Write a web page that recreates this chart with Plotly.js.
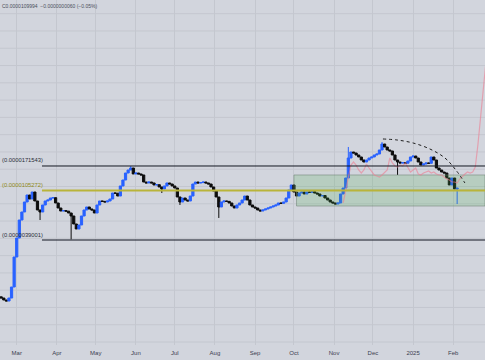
<!DOCTYPE html>
<html><head><meta charset="utf-8">
<script src="https://cdn.plot.ly/plotly-3.0.1.min.js"></script>
<style>html,body{margin:0;padding:0;background:#d2d5dd;}#chart{width:485px;height:360px;}</style>
</head><body><div id="chart"></div>
<script>
// ---- data (prices in units of 1e-6) ----
const candleStartDate = '2024-02-18';   // one candle every 2 days
const candleStepDays = 2;
const closes = [
1.221,1.174,1.150,1.221,1.522,2.775,4.059,5.820,6.831,8.345,
9.600,8.861,10.19,8.514,7.110,6.831,7.859,8.514,8.685,9.040,
9.10,8.180,7.400,6.969,7.02,6.95,6.696,6.306,5.373,4.861,
5.266,6.306,7.110,7.550,7.254,7.110,6.696,7.859,8.514,8.45,
8.345,8.514,8.861,9.992,9.95,9.409,11.50,12.96,14.91,15.83,
16.48,14.62,14.91,14.62,14.33,12.45,12.21,12.45,12.21,11.73,
11.80,11.27,10.83,11.50,12.21,11.96,11.50,11.04,9.223,8.345,
9.040,8.685,8.514,9.409,11.96,12.45,12.21,12.30,12.45,12.21,
11.96,11.27,10.40,9.223,7.550,8.345,8.514,8.45,8.180,7.703,
7.400,7.859,8.180,8.685,9.409,8.685,7.859,7.550,7.400,7.110,
6.969,7.110,7.254,7.400,7.550,7.703,7.859,8.180,8.12,8.345,
9.040,10.61,11.73,10.19,9.409,9.992,10.19,9.794,10.19,10.12,
10.25,9.992,9.794,9.409,9.50,9.040,8.685,8.345,8.180,8.017,
8.180,9.794,11.04,13.49,20.13,22.70,22.25,21.38,20.54,19.34,
18.58,19.34,20.13,20.54,21.38,21.81,23.63,26.64,25.09,23.63,
23.16,21.38,19.34,18.58,18.22,18.30,18.15,18.96,20.54,20.95,
20.13,18.58,17.50,17.85,18.22,18.10,20.54,19.34,16.48,15.83,
15.21,14.91,13.49,11.73,13.49,10.83,10.9994
];
const firstOpen = 1.25;
// long wicks: candle index -> low / high
const wickLowIdx  = [15, 27, 62, 69, 84, 153, 176];
const wickLowVal  = [5.82, 3.95, 9.99, 7.86, 6.06, 14.33, 8.017];
const wickHighIdx = [50, 134, 147];
const wickHighVal = [17.10, 25.10, 27.70];

// faint pink compare series
const pinkStartDate = '2024-11-08';
const pinkValues = [
8.180,10.61,14.33,17.50,18.58,17.50,15.83,14.91,15.83,17.85,
16.48,15.21,14.33,14.04,13.76,14.33,15.21,15.83,20.13,18.22,
17.15,16.81,17.50,17.15,18.22,16.48,15.21,15.83,16.48,14.62,
14.33,14.91,15.21,15.52,14.91,15.21,14.62,14.33,14.33,13.76,
13.22,12.96,12.45,12.45,12.21,13.22,14.04,14.62,15.21,14.91,
15.21,16.81,26.11,44.83,86.79,129.6
];

// horizontal drawings (price levels) and their labels
const levelValues = [17.1543, 10.5272, 3.9001];
const levelLabels = ['(0.0000171543)', '(0.0000105272)', '(0.0000039001)'];
const levelStart = '2024-03-20 12:00';

// zone rectangles [start date, top, bottom]
const zoneStarts = ['2024-10-01', '2024-10-03'];
const zoneTops = [14.33, 10.5272];
const zoneBottoms = [10.5272, 7.70];

// dotted arc drawing
const arcDates = ['2024-12-08 17:00','2024-12-19 12:00','2025-01-01','2025-01-14','2025-01-25 14:00','2025-02-03','2025-02-10'];
const arcValues = [29.45, 28.87, 27.18, 24.10, 20.13, 15.83, 12.21];

// x-axis ticks
const tickDates = ['2024-03-01','2024-04-01','2024-05-01','2024-06-01','2024-07-01','2024-08-01','2024-09-01','2024-10-01','2024-11-01','2024-12-01','2025-01-01','2025-02-01'];
const tickLabels = ['Mar','Apr','May','Jun','Jul','Aug','Sep','Oct','Nov','Dec','2025','Feb'];

const headerText = 'C0.0000109994  \u22120.0000000060 (\u22120.05%)';

// ---- build ----
const DAY = 864e5;
function dateSeq(start, n, step) {
  const t0 = Date.parse(start + 'T00:00:00Z');
  const out = [];
  for (let i = 0; i < n; i++) out.push(new Date(t0 + i * step * DAY).toISOString().slice(0, 10));
  return out;
}
const cDates = dateSeq(candleStartDate, closes.length, candleStepDays);
const opens = closes.map((c, i) => i === 0 ? firstOpen : closes[i - 1]);
const highs = closes.map((c, i) => Math.max(c, opens[i]));
const lows = closes.map((c, i) => Math.min(c, opens[i]));
wickLowIdx.forEach((k, j) => { lows[k] = Math.min(lows[k], wickLowVal[j]); });
wickHighIdx.forEach((k, j) => { highs[k] = Math.max(highs[k], wickHighVal[j]); });
const pDates = dateSeq(pinkStartDate, pinkValues.length, candleStepDays);

const xRange = ['2024-02-17 02:00', '2025-02-25 12:00'];
const yRange = [-0.3217, 2.6773];
const BG = '#d2d5dd', GRID = '#c4c7cf';

const traces = [];
zoneStarts.forEach((s, i) => {
  traces.push({
    type: 'scatter', mode: 'lines', hoverinfo: 'skip', showlegend: false,
    x: [s, xRange[1], xRange[1], s, s],
    y: [zoneTops[i], zoneTops[i], zoneBottoms[i], zoneBottoms[i], zoneTops[i]],
    fill: 'toself', fillcolor: 'rgba(76,175,80,0.2)',
    line: { color: 'rgba(110,130,115,0.55)', width: 1 }
  });
});
traces.push({
  type: 'scatter', mode: 'lines', hoverinfo: 'skip', showlegend: false,
  x: pDates, y: pinkValues, line: { color: 'rgba(236,125,145,0.6)', width: 1.2 }
});
const levelColors = ['#131722', '#b9b43a', '#131722'];
const levelWidths = [1, 2, 1];
levelValues.forEach((v, i) => {
  traces.push({
    type: 'scatter', mode: 'lines', hoverinfo: 'skip', showlegend: false,
    x: [levelStart, xRange[1]], y: [v, v],
    line: { color: levelColors[i], width: levelWidths[i] }
  });
});
traces.push({
  type: 'candlestick', x: cDates, open: opens, high: highs, low: lows, close: closes,
  showlegend: false, hoverinfo: 'skip', whiskerwidth: 0,
  increasing: { line: { color: '#2962ff', width: 1 }, fillcolor: '#2962ff' },
  decreasing: { line: { color: '#0d0d0d', width: 1 }, fillcolor: '#0d0d0d' }
});
traces.push({
  type: 'scatter', mode: 'lines', hoverinfo: 'skip', showlegend: false,
  x: arcDates, y: arcValues, line: { color: '#1e1e1e', width: 1, dash: 'dot', shape: 'spline' }
});

const shapes = [];
for (let yp = 13.7; yp < 345; yp += 17.28) {
  shapes.push({ type: 'line', xref: 'paper', yref: 'paper', x0: 0, x1: 1,
    y0: 1 - yp / 345, y1: 1 - yp / 345, line: { color: GRID, width: 1 }, layer: 'below' });
}

const labelColors = ['#2a2e39', '#8f8a18', '#2a2e39'];
const annotations = levelValues.map((v, i) => ({
  xref: 'paper', yref: 'y', x: 0, y: Math.log10(v), xanchor: 'left', yanchor: 'middle',
  yshift: 5.5, xshift: 0, showarrow: false, text: levelLabels[i],
  font: { family: 'Liberation Sans, Arial, sans-serif', size: 5.8, color: labelColors[i] }
}));
annotations.push({
  xref: 'paper', yref: 'paper', x: 0, y: 1, xanchor: 'left', yanchor: 'top', yshift: -1,
  showarrow: false, text: headerText,
  font: { family: 'Liberation Sans, Arial, sans-serif', size: 5, color: '#4a4e5a' }
});

const layout = {
  width: 485, height: 360,
  margin: { l: 0, r: 0, t: 0, b: 15, pad: 0 },
  paper_bgcolor: BG, plot_bgcolor: BG,
  showlegend: false, boxgap: 0.15, boxgroupgap: 0,
  xaxis: {
    type: 'date', range: xRange, rangeslider: { visible: false },
    tickmode: 'array', tickvals: tickDates, ticktext: tickLabels,
    showgrid: true, gridcolor: GRID, gridwidth: 1, zeroline: false, showline: false,
    ticks: '', ticklabelstandoff: 3,
    tickfont: { family: 'Liberation Sans, Arial, sans-serif', size: 6, color: '#3c4050' }
  },
  yaxis: {
    type: 'log', range: yRange, showticklabels: false, showgrid: false,
    zeroline: false, showline: false, ticks: ''
  },
  shapes: shapes,
  annotations: annotations
};

Plotly.newPlot('chart', traces, layout, { displayModeBar: false, staticPlot: true });
</script>
</body></html>
